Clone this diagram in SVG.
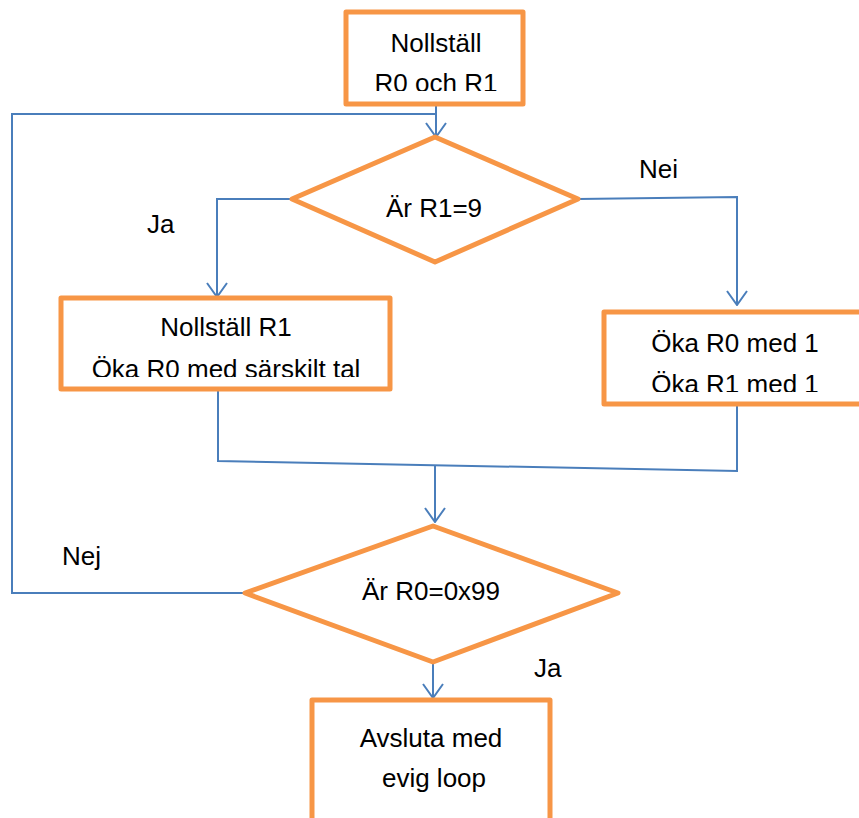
<svg xmlns="http://www.w3.org/2000/svg" width="859" height="818" viewBox="0 0 859 818">
<style>
.box{fill:#fff;stroke:#F79646;stroke-width:5;stroke-linejoin:round}
.con{fill:none;stroke:#4A7EBB;stroke-width:2}
text{font-family:"Liberation Sans",Arial,sans-serif;font-size:26px;fill:#000;text-anchor:middle}
.lbl{text-anchor:start}
</style>
<defs>
<marker id="arr" viewBox="0 0 16 22" refX="15" refY="11" markerWidth="16" markerHeight="22" markerUnits="userSpaceOnUse" orient="auto">
<path d="M1,1 L15,11 L1,21" fill="none" stroke="#4A7EBB" stroke-width="2"/>
</marker>
<clipPath id="c1"><rect x="340" y="0" width="190" height="91"/></clipPath>
<clipPath id="c2"><rect x="55" y="290" width="340" height="87"/></clipPath>
<clipPath id="c3"><rect x="600" y="305" width="259" height="87"/></clipPath>
</defs>
<rect width="859" height="818" fill="#fff"/>
<g id="connectors">
<path class="con" d="M245,593 L12,593 L12,114 L436,114"/>
<path class="con" d="M436,104 L436,137" marker-end="url(#arr)"/>
<path class="con" d="M292,199 L217,199 L217,297" marker-end="url(#arr)"/>
<path class="con" d="M578,199 L737,197 L737,305" marker-end="url(#arr)"/>
<path class="con" d="M218,389 L218,461 L737,471 L737,404"/>
<path class="con" d="M435,466 L435,522" marker-end="url(#arr)"/>
<path class="con" d="M433,662 L433,698" marker-end="url(#arr)"/>
</g>
<g id="start">
<rect class="box" x="346" y="12" width="177" height="92"/>
<g clip-path="url(#c1)">
<text x="436" y="52">Nollställ</text>
<text x="436" y="92">R0 och R1</text>
</g>
</g>
<g id="dec1">
<polygon class="box" points="435,137 578,199 435,262 292,199"/>
<text x="434" y="217">Är R1=9</text>
</g>
<g id="leftbox">
<rect class="box" x="61" y="298" width="329" height="91"/>
<g clip-path="url(#c2)">
<text x="226" y="336">Nollställ R1</text>
<text x="226" y="378">Öka R0 med särskilt tal</text>
</g>
</g>
<g id="rightbox">
<rect class="box" x="604" y="312" width="270" height="92"/>
<g clip-path="url(#c3)">
<text x="735" y="352">Öka R0 med 1</text>
<text x="735" y="393">Öka R1 med 1</text>
</g>
</g>
<g id="dec2">
<polygon class="box" points="433,526 618,593 433,662 245,593"/>
<text x="431" y="600">Är R0=0x99</text>
</g>
<g id="endbox">
<rect class="box" x="312" y="700" width="238" height="140"/>
<text x="431" y="747">Avsluta med</text>
<text x="434" y="787">evig loop</text>
</g>
<g id="labels">
<text class="lbl" x="639" y="178">Nei</text>
<text class="lbl" x="147" y="233">Ja</text>
<text class="lbl" x="62" y="565">Nej</text>
<text class="lbl" x="534" y="677">Ja</text>
</g>
</svg>
